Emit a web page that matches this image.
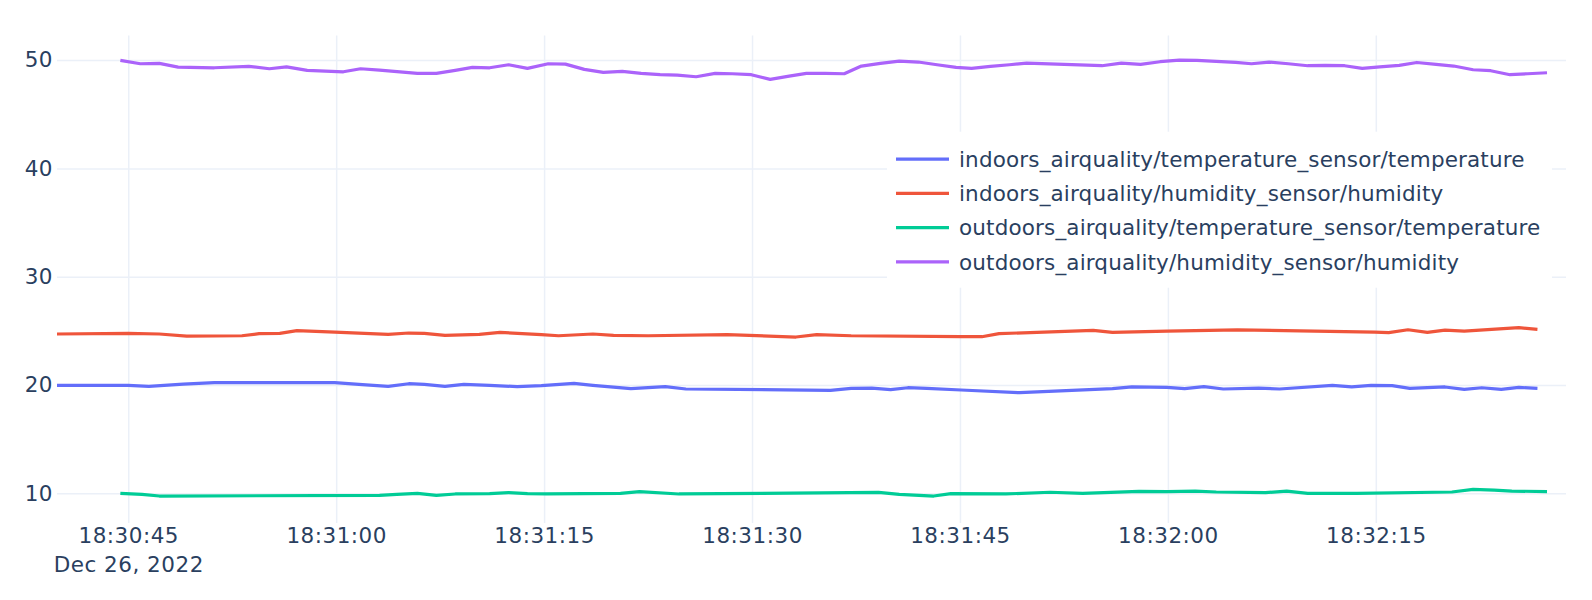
<!DOCTYPE html>
<html>
<head>
<meta charset="utf-8">
<script src="https://cdn.jsdelivr.net/npm/d3@7"></script>
<style>
  body { margin: 0; background: #fff; }
  #chart text { font-family: 'DejaVu Sans', Verdana, sans-serif; fill: #2a3f5f; }
</style>
</head>
<body>
<div id="chart"></div>
<script>
// seconds after 18:30:45, Dec 26 2022
const baseTime = new Date(2022, 11, 26, 18, 30, 45);

const seriesNames = [
  'indoors_airquality/temperature_sensor/temperature',
  'indoors_airquality/humidity_sensor/humidity',
  'outdoors_airquality/temperature_sensor/temperature',
  'outdoors_airquality/humidity_sensor/humidity',
];
const seriesColors = ['#636efa', '#EF553B', '#00cc96', '#ab63fa'];

const indoorTempT = [-5.14, 0.0, 1.49, 3.97, 6.21, 14.9, 16.89, 18.75, 20.24, 21.36,
  22.85, 24.21, 26.07, 28.06, 29.8, 32.16, 33.52, 36.26, 38.74, 40.23,
  50.66, 52.15, 53.64, 55.0, 56.24, 57.61, 60.09, 64.31, 71.0, 72.4,
  74.94, 76.21, 77.6, 79.0, 81.54, 83.06, 86.87, 88.26, 89.66, 91.18,
  92.45, 94.99, 96.38, 97.65, 99.05, 100.32, 101.66];
const indoorTemp = [19.97, 19.97, 19.88, 20.09, 20.22, 20.22, 20.03, 19.88, 20.12, 20.06,
  19.88, 20.06, 19.97, 19.85, 19.94, 20.15, 19.97, 19.66, 19.85, 19.63,
  19.51, 19.69, 19.72, 19.57, 19.75, 19.69, 19.54, 19.29, 19.66, 19.82,
  19.78, 19.66, 19.85, 19.63, 19.72, 19.63, 19.97, 19.82, 19.97, 19.94,
  19.69, 19.82, 19.6, 19.75, 19.6, 19.78, 19.69];

const indoorHumT = [-5.14, 0.0, 2.24, 4.22, 8.2, 9.44, 10.93, 12.17, 14.9, 18.75,
  20.24, 21.36, 22.85, 25.33, 26.82, 29.8, 31.04, 33.52, 35.01, 37.5,
  43.21, 48.17, 49.66, 52.15, 60.09, 61.58, 62.82, 69.61, 71.0, 74.94,
  80.01, 89.91, 90.93, 92.32, 93.72, 94.99, 96.38, 100.32, 101.66];
const indoorHum = [24.71, 24.77, 24.71, 24.52, 24.55, 24.74, 24.77, 25.02, 24.89, 24.68,
  24.8, 24.77, 24.59, 24.68, 24.86, 24.65, 24.55, 24.71, 24.59, 24.55,
  24.65, 24.43, 24.65, 24.55, 24.46, 24.46, 24.74, 25.05, 24.86, 24.98,
  25.1, 24.88, 24.83, 25.1, 24.86, 25.06, 24.97, 25.3, 25.14];

const outdoorTempT = [-0.57, 0.99, 2.24, 18.13, 19.37, 20.86, 22.23, 23.59, 26.07, 27.44,
  28.8, 30.17, 35.51, 36.88, 39.73, 54.13, 55.62, 58.11, 59.35, 63.32,
  66.5, 68.85, 72.91, 74.94, 76.97, 78.49, 82.04, 83.57, 85.09, 88.64,
  95.49, 97.02, 98.54, 99.81, 102.35];
const outdoorTemp = [10.0, 9.9, 9.75, 9.81, 9.9, 10.0, 9.81, 9.94, 9.97, 10.06,
  9.97, 9.94, 10.0, 10.15, 9.94, 10.09, 9.9, 9.75, 9.97, 9.94,
  10.1, 10.0, 10.18, 10.15, 10.21, 10.12, 10.06, 10.21, 10.0, 10.0,
  10.12, 10.37, 10.3, 10.21, 10.15];

const outdoorHumT = [-0.57, 0.87, 2.24, 3.6, 6.21, 8.69, 10.18, 11.42, 12.91, 15.52,
  16.76, 18.13, 20.86, 22.23, 23.59, 24.83, 26.07, 27.44, 28.8, 30.3,
  31.54, 32.9, 34.27, 35.64, 37.0, 38.37, 39.61, 40.97, 42.34, 43.58,
  44.95, 46.31, 47.68, 48.92, 50.28, 51.65, 52.89, 54.26, 55.62, 56.99,
  58.35, 59.72, 60.84, 62.2, 63.57, 64.81, 70.24, 71.64, 73.03, 74.43,
  75.83, 77.09, 78.49, 79.89, 81.03, 82.3, 83.69, 85.09, 86.36, 87.75,
  89.02, 90.29, 91.69, 92.96, 94.35, 95.62, 97.02, 98.29, 99.68, 100.95,
  102.35];
const outdoorHum = [49.97, 49.66, 49.69, 49.35, 49.29, 49.42, 49.2, 49.38, 49.05, 48.92,
  49.2, 49.08, 48.77, 48.77, 49.05, 49.32, 49.29, 49.57, 49.23, 49.66,
  49.63, 49.14, 48.86, 48.95, 48.77, 48.65, 48.62, 48.46, 48.77, 48.74,
  48.65, 48.22, 48.52, 48.77, 48.77, 48.74, 49.45, 49.69, 49.91, 49.82,
  49.57, 49.32, 49.23, 49.42, 49.57, 49.72, 49.48, 49.72, 49.6, 49.85,
  50.0, 49.97, 49.88, 49.78, 49.66, 49.82, 49.66, 49.48, 49.51, 49.48,
  49.23, 49.38, 49.51, 49.78, 49.6, 49.45, 49.11, 49.02, 48.65, 48.74,
  48.83];

const xTicks = [0, 15, 30, 45, 60, 75, 90];
const yTicks = [10, 20, 30, 40, 50];
const xRange = [-5.14, 103.72];
const yRange = [7.26, 52.27];

const toDate = s => new Date(baseTime.getTime() + s * 1000);
const zip = (ts, vs) => ts.map((t, i) => ({ t: toDate(t), v: vs[i] }));
const series = [
  zip(indoorTempT, indoorTemp),
  zip(indoorHumT, indoorHum),
  zip(outdoorTempT, outdoorTemp),
  zip(outdoorHumT, outdoorHum),
];

const W = 1592;
const H = 600;
const margin = { top: 35.5, right: 26, bottom: 77, left: 57 };
const w = W - margin.left - margin.right;
const h = H - margin.top - margin.bottom;
const fontSize = 21.5;
const gridColor = '#ebf0f8';

const svg = d3
  .select('#chart')
  .append('svg')
  .attr('width', W)
  .attr('height', H);

const g = svg
  .append('g')
  .attr('transform', 'translate(' + margin.left + ',' + margin.top + ')');

const xScale = d3
  .scaleTime()
  .domain(xRange.map(toDate))
  .range([0, w]);
const yScale = d3
  .scaleLinear()
  .domain(yRange)
  .range([h, 0]);

const timeFmt = d3.timeFormat('%H:%M:%S');
const dateFmt = d3.timeFormat('%b %d, %Y');

const xAxis = d3
  .axisBottom(xScale)
  .tickValues(xTicks.map(toDate))
  .tickSize(-h)
  .tickPadding(5)
  .tickFormat(timeFmt);
const yAxis = d3
  .axisLeft(yScale)
  .tickValues(yTicks)
  .tickSize(-w)
  .tickPadding(4)
  .tickFormat(d3.format('d'));

const gx = g
  .append('g')
  .attr('class', 'axis xAxis')
  .attr('transform', 'translate(0,' + h + ')')
  .call(xAxis);
const gy = g
  .append('g')
  .attr('class', 'axis yAxis')
  .call(yAxis);

[gx, gy].forEach(a => {
  a.select('.domain').remove();
  a.selectAll('line')
    .attr('stroke', gridColor)
    .attr('stroke-width', 1.5);
  a.selectAll('text')
    .attr('fill', '#2a3f5f')
    .style('font-size', fontSize + 'px')
    .style('letter-spacing', '0.5px');
});

// date goes under the first time label, plotly style
gx.selectAll('.tick text')
  .filter((d, i) => i === 0)
  .append('tspan')
  .attr('x', 0)
  .attr('dy', '1.33em')
  .text(d => dateFmt(d));

g.append('clipPath')
  .attr('id', 'plot-clip')
  .append('rect')
  .attr('width', w)
  .attr('height', h);

const line = d3
  .line()
  .x(d => xScale(d.t))
  .y(d => yScale(d.v));

g.append('g')
  .attr('clip-path', 'url(#plot-clip)')
  .selectAll('path')
  .data(series)
  .join('path')
  .attr('fill', 'none')
  .attr('stroke', (d, i) => seriesColors[i])
  .attr('stroke-width', 3.2)
  .attr('stroke-linejoin', 'round')
  .attr('d', line);

// legend
const legend = svg.append('g').attr('transform', 'translate(887,131.7)');
legend
  .append('rect')
  .attr('width', 665)
  .attr('height', 156)
  .attr('fill', '#fff');

const item = legend
  .selectAll('.legend-item')
  .data(seriesNames)
  .join('g')
  .attr('class', 'legend-item')
  .attr('transform', (d, i) => 'translate(0,' + (27.5 + i * 34.2) + ')');

item
  .append('line')
  .attr('x1', 9)
  .attr('x2', 62)
  .attr('stroke', (d, i) => seriesColors[i])
  .attr('stroke-width', 3.2);

item
  .append('text')
  .attr('x', 72)
  .attr('dy', '0.36em')
  .style('font-size', fontSize + 'px')
  .style('letter-spacing', '0.15px')
  .text(d => d);
</script>
</body>
</html>
